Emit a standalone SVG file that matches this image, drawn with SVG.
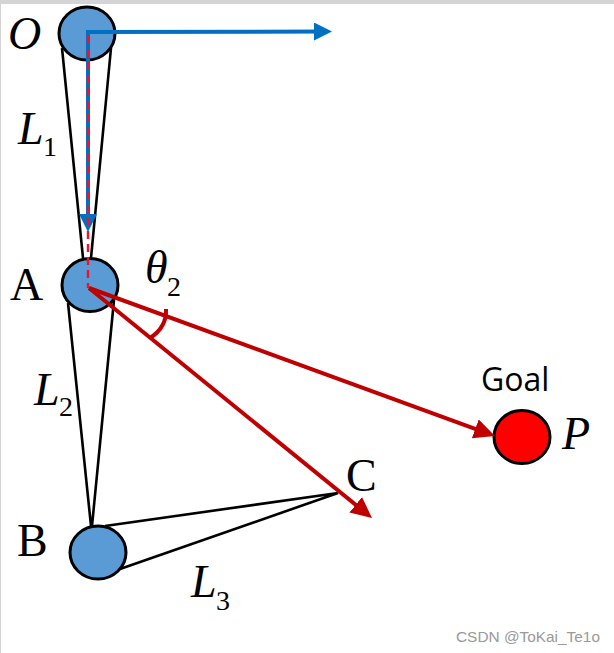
<svg xmlns="http://www.w3.org/2000/svg" width="614" height="653" viewBox="0 0 614 653">
<style>
.bg{fill:#fff}
.band{fill:#d4d4d4}
.j{fill:#5b9bd5;stroke:#000;stroke-width:3}
.g{fill:#f00;stroke:#000;stroke-width:3}
.l{stroke:#000;stroke-width:2.6;fill:none}
.b{stroke:#0070c0;stroke-width:4;fill:none}
.r{stroke:#c00000;stroke-width:4;fill:none}
.d{stroke:#f01030;stroke-width:2.4;stroke-dasharray:8 5;fill:none}
text{fill:#000;font-family:"Liberation Serif",serif}
.v{font-size:46px;font-style:italic}
.u{font-size:46px}
.s{font-size:28px;font-style:normal}
.goal{font-family:"Open Sans","Noto Sans",sans-serif;font-size:32px}
.wm{font-family:"Liberation Sans",sans-serif;font-size:15.4px;fill:#999}
</style>
<defs>
<marker id="ab" markerUnits="userSpaceOnUse" markerWidth="20" markerHeight="20" refX="12" refY="9" orient="auto"><path d="M0 0L18 9L0 18z" fill="#0070c0"/></marker>
<marker id="ar" markerUnits="userSpaceOnUse" markerWidth="24" markerHeight="22" refX="13" refY="10" orient="auto"><path d="M0 0L21 10L0 20z" fill="#c00000"/></marker>
</defs>
<rect class="bg" width="614" height="653"/>
<rect class="band" width="614" height="4"/>
<rect class="band" width="1" height="653"/>
<g id="links">
<path class="l" d="M62 48L83 258M111 48L91 258"/>
<path class="l" d="M68 303L91 526M114 300L92 526"/>
<path class="l" d="M105 526L338 493L120 569"/>
</g>
<g id="node-O"><ellipse class="j" cx="87" cy="33.5" rx="28" ry="26.5"/><text class="v" x="8" y="49">O</text></g>
<g id="node-A"><ellipse class="j" cx="90" cy="285" rx="28" ry="26.5"/><text class="u" x="10" y="300">A</text></g>
<g id="node-B"><ellipse class="j" cx="98" cy="552.5" rx="28" ry="26.5"/><text class="u" x="17" y="556">B</text></g>
<g id="node-C"><text class="u" x="346" y="491">C</text></g>
<g id="node-P"><ellipse class="g" cx="522" cy="437" rx="28" ry="26.5"/><text class="v" x="562" y="449">P</text><text class="goal" x="481" y="391">Goal</text></g>
<g id="connectors">
<path class="b" d="M86 32L326 31.5" marker-end="url(#ab)"/>
<path class="b" d="M88 32V226" marker-end="url(#ab)"/>
<path class="d" d="M88 36V288"/>
<path class="r" d="M89 288L487.5 433.3" marker-end="url(#ar)"/>
<path class="r" d="M89 288L365.8 513" marker-end="url(#ar)"/>
<path class="r" d="M166 309Q167 327 150 338"/>
</g>
<g id="labels">
<text class="v" x="18" y="144">L</text><text class="s" x="43" y="156">1</text>
<text class="v" x="34" y="405">L</text><text class="s" x="59" y="416">2</text>
<text class="v" x="191" y="597">L</text><text class="s" x="216" y="610">3</text>
<text class="v" x="145" y="283">θ</text><text class="s" x="167" y="296">2</text>
</g>
<text class="wm" x="456" y="642">CSDN @ToKai_Te1o</text>
</svg>
